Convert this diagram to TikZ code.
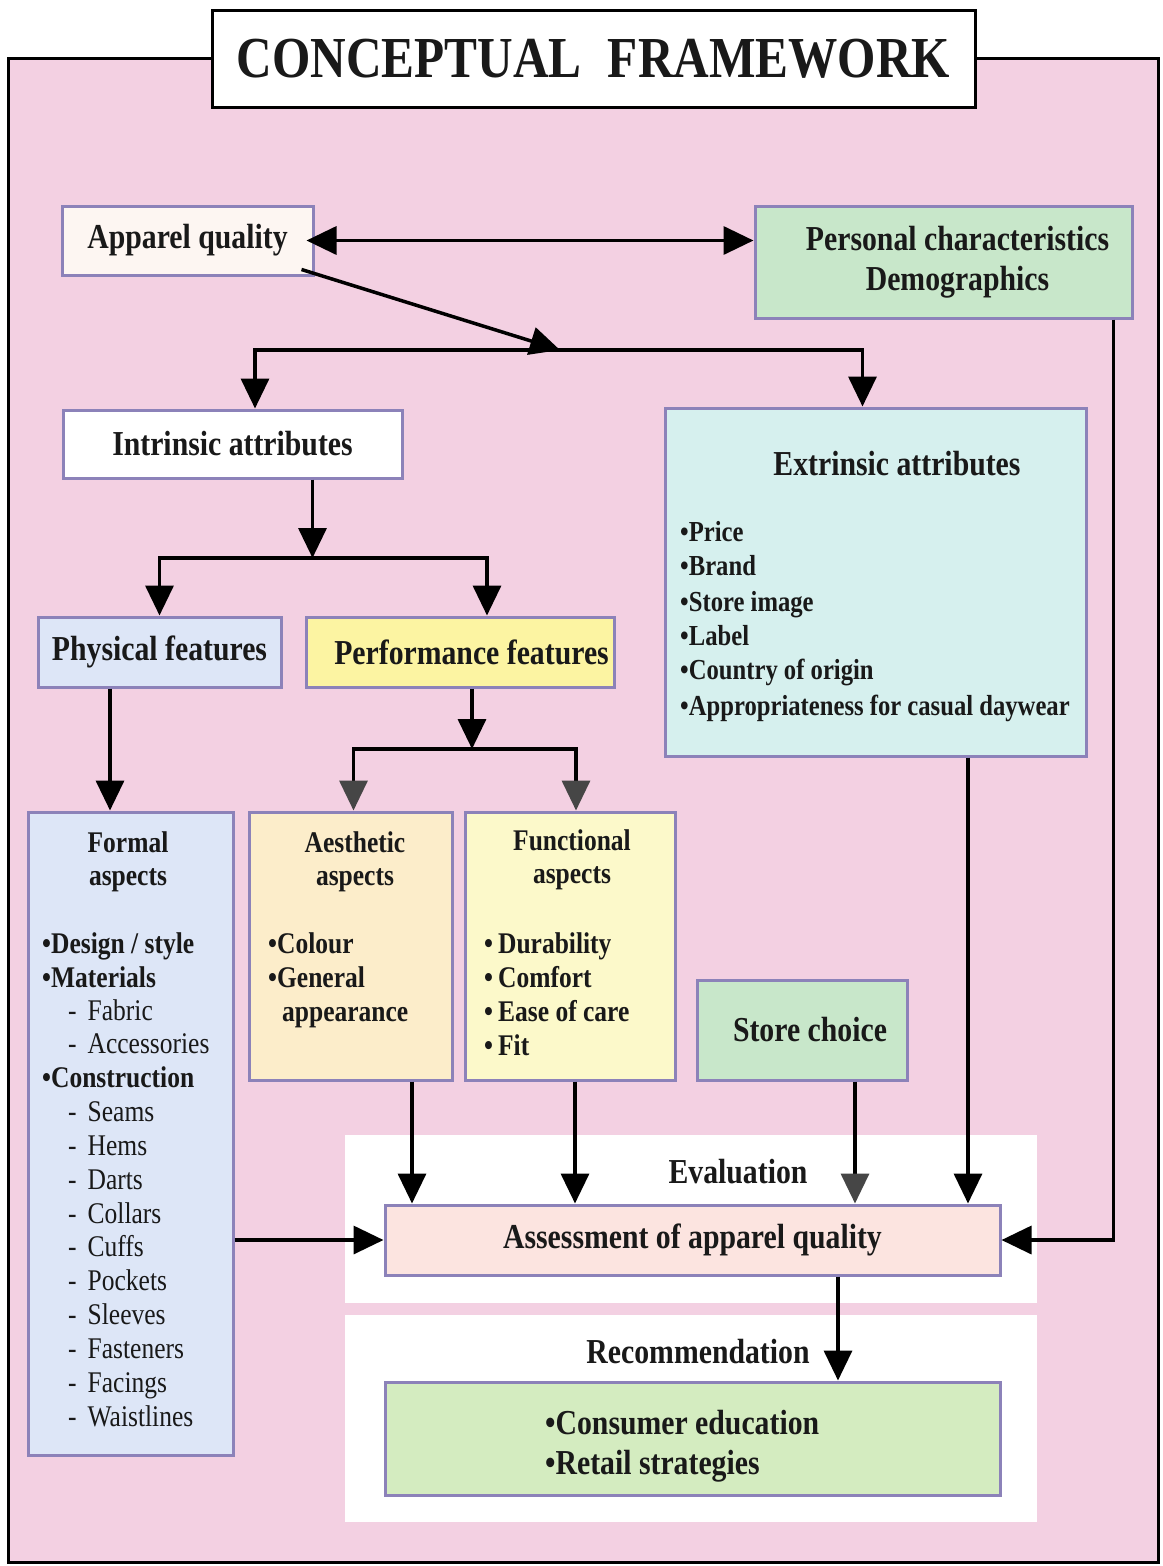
\documentclass[tikz,border=0pt]{standalone}
\usepackage{fontspec}
\setmainfont{Liberation Serif}[FakeStretch=0.85]
\usetikzlibrary{arrows.meta}
\definecolor{pinkbg}{RGB}{243,208,226}
\definecolor{bordc}{RGB}{140,130,185}
\definecolor{apfill}{RGB}{253,246,242}
\definecolor{greenP}{RGB}{200,231,202}
\definecolor{extrfill}{RGB}{214,240,238}
\definecolor{bluefill}{RGB}{221,230,247}
\definecolor{perffill}{RGB}{252,244,162}
\definecolor{aestfill}{RGB}{252,237,202}
\definecolor{funcfill}{RGB}{252,249,202}
\definecolor{assfill}{RGB}{252,228,224}
\definecolor{consfill}{RGB}{212,236,192}
\definecolor{txt}{RGB}{25,25,25}
\definecolor{headgray}{RGB}{70,70,70}
\newcommand\myfs[2]{\fontsize{#1}{#2}\selectfont}
\begin{document}
\begin{tikzpicture}[x=1pt,y=-1pt,
  box/.style={draw=bordc, line width=3pt, inner sep=0pt, text=txt, align=center, font=\myfs{35}{40}\bfseries},
  lbl/.style={inner sep=0pt, text=txt, font=\myfs{35}{40}\bfseries},
  sub/.style={inner sep=0pt, text=txt, font=\myfs{30}{34}\bfseries},
  item/.style={inner sep=0pt, text=txt, font=\myfs{29}{34}\bfseries},
  ritem/.style={inner sep=0pt, text=txt, font=\myfs{30}{34}},
  arr/.style={line width=3.5pt, -{Triangle[length=30pt,width=28pt]}},
  garr/.style={line width=3.5pt, -{Triangle[length=30pt,width=28pt,color=headgray]}},
  dbl/.style={line width=3.5pt, {Triangle[length=30pt,width=28pt]}-{Triangle[length=30pt,width=28pt]}}]
\useasboundingbox (0,0) rectangle (1162,1566);
\fill[white] (0,0) rectangle (1162,1566);
% outer frame
\draw[line width=3pt, fill=pinkbg] (8,58) rectangle (1158,1562);
% white panels
\fill[white] (345,1135) rectangle (1037,1303);
\fill[white] (345,1315) rectangle (1037,1522);
% title
\node[draw=black, line width=3pt, fill=white, minimum width=763pt, minimum height=97pt, inner sep=0pt,
  font=\myfs{58}{60}\bfseries, text=txt] (title) at (593.5,58.5) {CONCEPTUAL\hspace{0.45em}FRAMEWORK};

% boxes
\node[box, fill=apfill, minimum width=251pt, minimum height=69pt] (apq) at (187.5,240.5) {Apparel quality};
\node[box, fill=greenP, minimum width=377pt, minimum height=112pt] (pers) at (943.5,262) {\hspace*{28pt}Personal characteristics\\\hspace*{28pt}Demographics};
\node[box, fill=white, minimum width=339pt, minimum height=68pt] (intr) at (232.5,444) {Intrinsic attributes};
\node[box, fill=extrfill, minimum width=421pt, minimum height=348pt] (extr) at (875.5,582) {};
\node[box, fill=bluefill, minimum width=243pt, minimum height=70pt] (phys) at (159.5,652) {Physical features};
\node[box, fill=perffill, minimum width=308pt, minimum height=70pt] (perf) at (460,652) {\hspace*{23pt}Performance features};
\node[box, fill=bluefill, minimum width=205pt, minimum height=643pt] (form) at (130.5,1133.5) {};
\node[box, fill=aestfill, minimum width=203pt, minimum height=268pt] (aest) at (350.5,946) {};
\node[box, fill=funcfill, minimum width=210pt, minimum height=268pt] (func) at (570,946) {};
\node[box, fill=greenP, minimum width=210pt, minimum height=100pt] (store) at (802,1030) {\hspace*{16pt}Store choice};
\node[box, fill=assfill, minimum width=615pt, minimum height=70pt] (assess) at (692.5,1240) {Assessment of apparel quality};
\node[box, fill=consfill, minimum width=615pt, minimum height=113pt] (cons) at (692.5,1438.5) {};

% Extrinsic texts
\node[lbl, anchor=base] (extrt) at (897,475.5) {Extrinsic attributes};
\node[item, anchor=base west] (e1) at (680,541.5) {•Price};
\node[item, anchor=base west] (e2) at (680,575.5) {•Brand};
\node[item, anchor=base west] (e3) at (680,611.5) {•Store image};
\node[item, anchor=base west] (e4) at (680,645.5) {•Label};
\node[item, anchor=base west] (e5) at (680,679.5) {•Country of origin};
\node[item, anchor=base west] (e6) at (680,715.5) {•Appropriateness for casual daywear};

% Formal texts
\node[sub, anchor=base] (f0a) at (128,852) {Formal};
\node[sub, anchor=base] (f0b) at (128,885) {aspects};
\node[sub, anchor=base west] (f1) at (42,953) {•Design / style};
\node[sub, anchor=base west] (f2) at (42,987) {•Materials};
\node[ritem, anchor=base west] (f3) at (68,1020) {-\hspace{11pt}Fabric};
\node[ritem, anchor=base west] (f4) at (68,1053.5) {-\hspace{11pt}Accessories};
\node[sub, anchor=base west] (f5) at (42,1087) {•Construction};
\node[ritem, anchor=base west] (f6) at (68,1121) {-\hspace{11pt}Seams};
\node[ritem, anchor=base west] (f7) at (68,1155) {-\hspace{11pt}Hems};
\node[ritem, anchor=base west] (f8) at (68,1189) {-\hspace{11pt}Darts};
\node[ritem, anchor=base west] (f9) at (68,1223) {-\hspace{11pt}Collars};
\node[ritem, anchor=base west] (f10) at (68,1256) {-\hspace{11pt}Cuffs};
\node[ritem, anchor=base west] (f11) at (68,1290) {-\hspace{11pt}Pockets};
\node[ritem, anchor=base west] (f12) at (68,1324) {-\hspace{11pt}Sleeves};
\node[ritem, anchor=base west] (f13) at (68,1358) {-\hspace{11pt}Fasteners};
\node[ritem, anchor=base west] (f14) at (68,1392) {-\hspace{11pt}Facings};
\node[ritem, anchor=base west] (f15) at (68,1426) {-\hspace{11pt}Waistlines};

% Aesthetic texts
\node[sub, anchor=base] (a0a) at (355,852) {Aesthetic};
\node[sub, anchor=base] (a0b) at (355,885) {aspects};
\node[sub, anchor=base west] (a1) at (268,953) {•Colour};
\node[sub, anchor=base west] (a2) at (268,987) {•General};
\node[sub, anchor=base west] (a3) at (282,1021) {appearance};

% Functional texts
\node[sub, anchor=base] (u0a) at (572,850) {Functional};
\node[sub, anchor=base] (u0b) at (572,883) {aspects};
\node[sub, anchor=base west] (u1) at (484,953) {•\,Durability};
\node[sub, anchor=base west] (u2) at (484,987) {•\,Comfort};
\node[sub, anchor=base west] (u3) at (484,1021) {•\,Ease of care};
\node[sub, anchor=base west] (u4) at (484,1055) {•\,Fit};

% panel labels
\node[lbl, anchor=base] (evalt) at (738,1183) {Evaluation};
\node[lbl, anchor=base] (rect) at (698,1363) {Recommendation};
\node[lbl, anchor=base west] (c1) at (545,1434) {•Consumer education};
\node[lbl, anchor=base west] (c2) at (545,1474) {•Retail strategies};

% junction coordinates
\coordinate (j1) at (560,350);
\coordinate (j2) at (312.5,558);
\coordinate (j3) at (472,749);

% connectors
\draw[dbl] ([xshift=-8pt]apq.east) -- (apq.east -| pers.west);
\draw[arr] ([xshift=-13pt,yshift=7pt]apq.south east) -- (j1);
\draw[arr] (j1) -| ([xshift=22.5pt]intr.north);
\draw[arr] (j1) -| ([xshift=-13pt]extr.north);
\draw[arr] ([xshift=80pt]intr.south) -- (j2);
\draw[arr] (j2) -| (phys.north);
\draw[arr] (j2) -| ([xshift=27pt]perf.north);
\draw[arr] ([xshift=-49.5pt]phys.south) -- ([xshift=-49.5pt]phys.south |- form.north);
\draw[arr] ([xshift=12pt]perf.south) -- (j3);
\draw[garr] (j3) -| ([xshift=3pt]aest.north);
\draw[garr] (j3) -| ([xshift=6pt]func.north);
\draw[arr] ([xshift=61.5pt]aest.south) -- ([xshift=61.5pt]aest.south |- assess.north);
\draw[arr] ([xshift=5pt]func.south) -- ([xshift=5pt]func.south |- assess.north);
\draw[garr] ([xshift=53pt]store.south) -- ([xshift=53pt]store.south |- assess.north);
\draw[arr] ([xshift=92.5pt]extr.south) -- ([xshift=92.5pt]extr.south |- assess.north);
\draw[arr] (form.east |- assess.west) -- (assess.west);
\draw[arr] ([xshift=-20pt]pers.south east) |- (assess.east);
\draw[arr] ([xshift=145.5pt]assess.south) -- ([xshift=145.5pt]assess.south |- cons.north);
\end{tikzpicture}
\end{document}
